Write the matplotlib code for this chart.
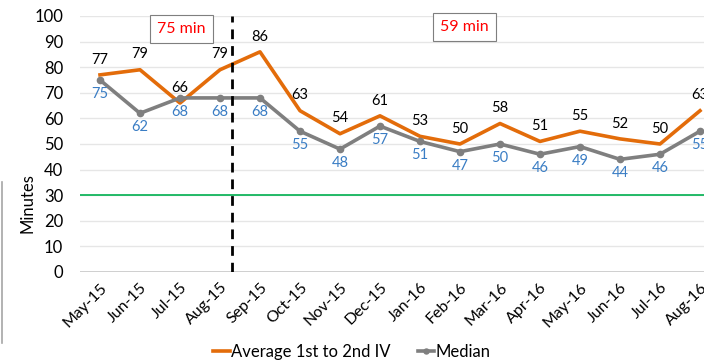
import matplotlib
matplotlib.use("Agg")
import matplotlib.pyplot as plt
from matplotlib.lines import Line2D

plt.rcParams['font.family'] = ['Lato', 'DejaVu Sans']

months = ["May-15", "Jun-15", "Jul-15", "Aug-15", "Sep-15", "Oct-15", "Nov-15", "Dec-15",
          "Jan-16", "Feb-16", "Mar-16", "Apr-16", "May-16", "Jun-16", "Jul-16", "Aug-16"]
average_iv = [77, 79, 66, 79, 86, 63, 54, 61, 53, 50, 58, 51, 55, 52, 50, 63]
median_iv = [75, 62, 68, 68, 68, 55, 48, 57, 51, 47, 50, 46, 49, 44, 46, 55]
target = 30
split_at = 3.3
period_labels = ["75 min", "59 min"]

x = list(range(len(months)))

fig = plt.figure(figsize=(7.04, 3.62), dpi=100)
# plot area runs past the right edge of the image
ax = fig.add_axes([80 / 704, 1 - 272 / 362, 640 / 704, 256 / 362])

ax.set_ylim(0, 100)
ax.set_xlim(-0.5, len(months) - 0.5)
ax.set_yticks(range(0, 101, 10))
ax.grid(axis='y', color='#e6e6e6', linewidth=1)
ax.set_axisbelow(True)
for s in ax.spines.values():
    s.set_visible(False)
ax.axhline(0, color='#c8c8c8', linewidth=1.2, zorder=1)

ax.plot(x, average_iv, color='#e36c0a', linewidth=2.6, label="Average 1st to 2nd IV", zorder=3)
ax.plot(x, median_iv, color='#7f7f7f', linewidth=2.6, marker='o', markersize=4.5,
        label="Median", zorder=3)
ax.axhline(target, color='#00b050', linewidth=1.2, zorder=2)
ax.axvline(split_at, color='black', linewidth=2, linestyle=(0, (3.5, 2.5)), zorder=4)

for i, v in enumerate(average_iv):
    ax.annotate(str(v), (i, v), xytext=(0, 6), textcoords='offset points',
                ha='center', va='bottom', fontsize=10.5, color='black')
for i, v in enumerate(median_iv):
    ax.annotate(str(v), (i, v), xytext=(0, -5), textcoords='offset points',
                ha='center', va='top', fontsize=10.5, color='#3a7dc4')

box = dict(boxstyle='square,pad=0.45', facecolor='white', edgecolor='#7f7f7f', linewidth=0.8)
ax.text(2.03, 95, period_labels[0], color='red', fontsize=11.5, ha='center', va='center', bbox=box)
ax.text(9.12, 95.6, period_labels[1], color='red', fontsize=11.5, ha='center', va='center', bbox=box)

ax.set_xticks(x)
ax.set_xticklabels(months, rotation=45, ha='right', rotation_mode='anchor', fontsize=11.5)
ax.tick_params(axis='both', length=0)
ax.tick_params(axis='x', pad=6)
ax.tick_params(axis='y', pad=12, labelsize=12)

ax.set_ylabel("Minutes", fontsize=12)
ax.yaxis.set_label_coords(-0.07, 0.27)

ax.legend(loc='center', bbox_to_anchor=((352 - 80) / 640, -(352 - 272) / 256), ncol=2,
          frameon=False, fontsize=12, handlelength=1.0, handletextpad=0.1,
          columnspacing=1.6, markerscale=0.8)

fig.add_artist(Line2D([1.5 / 704, 1.5 / 704], [1 - 182 / 362, 1 - 343 / 362],
                      color='#a6a6a6', linewidth=1.2))

fig.savefig("out.png", dpi=100)
